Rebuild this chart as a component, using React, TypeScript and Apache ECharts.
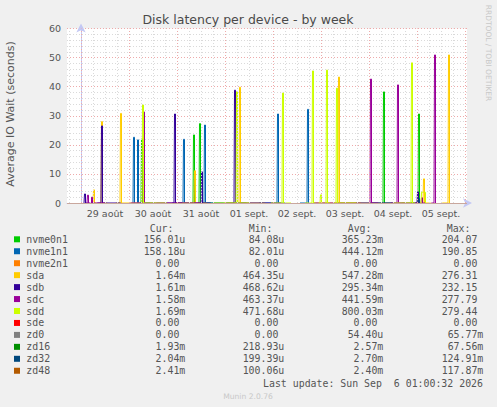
import { useEffect, useRef } from "react";
import * as echarts from "echarts";

// ---- legend / table data ----
const seriesNames = ["nvme0n1", "nvme1n1", "nvme2n1", "sda", "sdb", "sdc", "sdd", "sde", "zd0", "zd16", "zd32", "zd48"];
const seriesColors = ["#00CC00", "#0066B3", "#FF8000", "#FFCC00", "#330099", "#990099", "#CCFF00", "#FF0000", "#808080", "#008F00", "#00487D", "#B35A00"];
const curValues = ["156.01u", "158.18u", "0.00", "1.64m", "1.61m", "1.58m", "1.69m", "0.00", "0.00", "1.93m", "2.04m", "2.41m"];
const minValues = ["84.08u", "82.01u", "0.00", "464.35u", "468.62u", "463.37u", "471.68u", "0.00", "0.00", "218.93u", "199.39u", "100.06u"];
const avgValues = ["365.23m", "444.12m", "0.00", "547.28m", "295.34m", "441.59m", "800.03m", "0.00", "54.40u", "2.57m", "2.70m", "2.40m"];
const maxValues = ["204.07", "190.85", "0.00", "276.31", "232.15", "277.79", "279.44", "0.00", "65.77m", "67.56m", "124.91m", "117.87m"];
const columnHeaders = ["Cur:", "Min:", "Avg:", "Max:"];

// ---- axis data (hours since 29 Aug 00:00) ----
const xMin = -7;
const xMax = 193;
const dayLabels = ["29 août", "30 août", "31 août", "01 sept.", "02 sept.", "03 sept.", "04 sept.", "05 sept."];
const dayLabelHours = [12, 36, 60, 84, 108, 132, 156, 180];
const midnightHours = [0, 24, 48, 72, 96, 120, 144, 168, 192];
const sixHourHours = [-6, 6, 12, 18, 30, 36, 42, 54, 60, 66, 78, 84, 90, 102, 108, 114, 126, 132, 138, 150, 156, 162, 174, 180, 186];

// ---- spike values: [hour, seconds] ----
const nvme0n1Spikes = [[30.5, 22.0], [56.5, 23.4], [59.5, 27.3], [151.5, 38.2], [169, 30.6]];
const nvme1n1Spikes = [[26.5, 22.6], [28.5, 21.7], [51.5, 21.9], [62, 26.8], [98.5, 30.6], [113.5, 32.2]];
const nvme2n1Spikes: number[][] = [];
const sdaSpikes = [[6.5, 4.5], [10.5, 28.0], [20, 30.8], [57, 11.1], [79.5, 39.8], [129, 43.3], [171.5, 8.3], [184, 50.9]];
const sdbSpikes = [[2, 3.1], [10.5, 26.5], [47, 30.6], [60.5, 10.7], [77, 38.8], [168.5, 3.8]];
const sdcSpikes = [[3.5, 2.7], [5.5, 2.0], [31.5, 31.3], [145, 42.6], [158.5, 40.6], [170.5, 1.8], [177, 50.9]];
const sddSpikes = [[31, 33.7], [78, 38.3], [101, 37.8], [116, 45.4], [120, 2.8], [123, 45.7], [128, 39.5], [165.5, 48.2], [170.5, 3.7], [171, 3.7], [171.5, 3.7], [172, 3.7]];
const sdeSpikes: number[][] = [];
const zd0Spikes: number[][] = [];
const zd16Spikes: number[][] = [];
const zd32Spikes = [[169, 1.5]];
const zd48Spikes: number[][] = [];

const allSpikes = [nvme0n1Spikes, nvme1n1Spikes, nvme2n1Spikes, sdaSpikes, sdbSpikes, sdcSpikes, sddSpikes, sdeSpikes, zd0Spikes, zd16Spikes, zd32Spikes, zd48Spikes];

function spikeData(points: number[][]) {
  const out: any[] = [];
  points.forEach(([h, v], i) => {
    const prev = points[i - 1];
    if (!prev || h - prev[0] > 0.5) {
      if (prev) {
        out.push([prev[0] + 0.5, 0]);
        out.push([(prev[0] + h) / 2, "-"]);
      }
      out.push([h - 0.5, 0]);
    }
    out.push([h, v]);
  });
  if (points.length) out.push([points[points.length - 1][0] + 0.5, 0]);
  return out;
}

const SANS = "DejaVu Sans";
const MONO = "DejaVu Sans Mono";
const TXT = "#555555";

export default function App() {
  const ref = useRef<HTMLDivElement>(null);
  useEffect(() => {
    if (!ref.current) return;
    const chart = echarts.init(ref.current, null, { renderer: "svg" });

    const gridLineData: any[] = [
      ...sixHourHours.map((h) => ({ xAxis: h, lineStyle: { color: "#dadada", type: [1, 2], width: 1 } })),
      ...midnightHours.map((h) => ({ xAxis: h, lineStyle: { color: "#eeaaaa", type: [1, 2], width: 1 } })),
      { yAxis: 0, lineStyle: { color: "#c9a79d", type: "solid", width: 1 } },
    ];

    const series: any[] = [
      {
        type: "line",
        name: "grid",
        data: [],
        silent: true,
        markLine: { silent: true, symbol: "none", label: { show: false }, animation: false, data: gridLineData },
      },
    ];
    seriesNames.forEach((name, i) => {
      if (!allSpikes[i].length) return;
      series.push({
        type: "line",
        name,
        data: spikeData(allSpikes[i]),
        step: "middle",
        showSymbol: false,
        connectNulls: false,
        lineStyle: { color: seriesColors[i], width: 1 },
        itemStyle: { color: seriesColors[i] },
        silent: true,
      });
    });

    const colRight = [185.3, 284.3, 383.3, 483.3];
    const headerX = [149.7, 248.7, 347.7, 446.7];
    const cols = [curValues, minValues, avgValues, maxValues];
    const graphics: any[] = [
      {
        type: "text", x: 248, y: 19,
        style: { text: "Disk latency per device - by week", font: `12.5px '${SANS}'`, fill: "#4a4a4a", textAlign: "center", textVerticalAlign: "middle" },
      },
      {
        type: "text", x: 10, y: 114, rotation: Math.PI / 2,
        style: { text: "Average IO Wait (seconds)", font: `11px '${SANS}'`, fill: TXT, textAlign: "center", textVerticalAlign: "middle" },
      },
      {
        type: "text", x: 488, y: 53, rotation: -Math.PI / 2,
        style: { text: "RRDTOOL / TOBI OETIKER", font: `7.5px '${SANS}'`, fill: "#c8c8c8", textAlign: "center", textVerticalAlign: "middle" },
      },
      {
        type: "text", x: 483, y: 383.3,
        style: { text: "Last update: Sun Sep \u00a06 01:00:32 2026", font: `9.9px '${MONO}'`, fill: TXT, textAlign: "right", textVerticalAlign: "middle" },
      },
      {
        type: "text", x: 248, y: 396,
        style: { text: "Munin 2.0.76", font: `7.6px '${SANS}'`, fill: "#c8c8c8", textAlign: "center", textVerticalAlign: "middle" },
      },
    ];
    columnHeaders.forEach((h, c) => {
      graphics.push({
        type: "text", x: headerX[c], y: 228,
        style: { text: h, font: `9.9px '${MONO}'`, fill: TXT, textAlign: "left", textVerticalAlign: "middle" },
      });
    });
    seriesNames.forEach((name, i) => {
      const y = 239.3 + 11.95 * i;
      graphics.push({ type: "rect", shape: { x: 14, y: y - 3, width: 6, height: 6 }, style: { fill: seriesColors[i] } });
      graphics.push({
        type: "text", x: 26.3, y,
        style: { text: name, font: `9.9px '${MONO}'`, fill: TXT, textAlign: "left", textVerticalAlign: "middle" },
      });
      cols.forEach((col, c) => {
        const v = col[i];
        const hasSuffix = /[a-z]$/i.test(v);
        graphics.push({
          type: "text", x: colRight[c] - (hasSuffix ? 0 : 5.95), y,
          style: { text: v, font: `9.9px '${MONO}'`, fill: TXT, textAlign: "right", textVerticalAlign: "middle" },
        });
      });
    });

    const axisLavender = "#c3c8f4";
    chart.setOption({
      animation: false,
      backgroundColor: "#f0f0f0",
      textStyle: { fontFamily: SANS },
      grid: { left: 67, top: 28.5, width: 400, height: 174.5, show: true, backgroundColor: "#ffffff", borderWidth: 0 },
      xAxis: {
        type: "value",
        min: xMin,
        max: xMax,
        axisLine: { show: true, lineStyle: { color: axisLavender, width: 1 }, symbol: ["none", "arrow"], symbolSize: [7, 9], symbolOffset: [0, 5] },
        axisTick: { show: false },
        splitLine: { show: false },
        axisLabel: {
          customValues: dayLabelHours,
          formatter: (v: number) => dayLabels[dayLabelHours.indexOf(v)] ?? "",
          color: TXT,
          fontSize: 9.5,
          fontFamily: SANS,
          margin: 5,
        },
      },
      yAxis: {
        type: "value",
        min: 0,
        max: 60,
        interval: 10,
        axisLine: { show: true, lineStyle: { color: axisLavender, width: 1 }, symbol: ["none", "arrow"], symbolSize: [7, 9], symbolOffset: [0, 5] },
        axisTick: { show: false },
        axisLabel: { color: TXT, fontSize: 9.5, fontFamily: SANS, margin: 6 },
        splitLine: { show: true, lineStyle: { color: "#eeaaaa", type: [1, 2], width: 1 } },
        minorTick: { show: false, splitNumber: 5 },
        minorSplitLine: { show: true, lineStyle: { color: "#dadada", type: [1, 2], width: 1 } },
      },
      series,
      graphic: graphics,
    });
    return () => chart.dispose();
  }, []);
  return <div ref={ref} style={{ position: "fixed", left: 0, top: 0, width: 497, height: 407 }} />;
}
